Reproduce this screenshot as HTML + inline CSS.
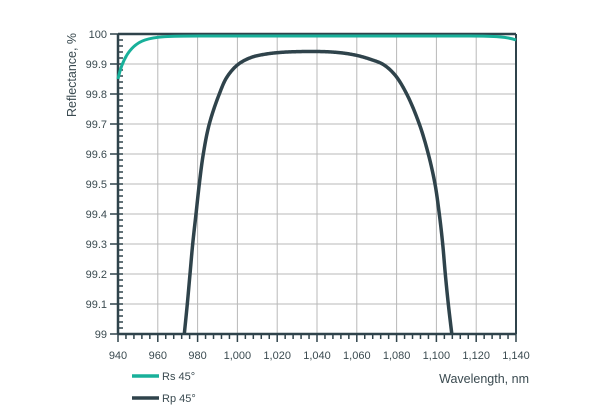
<!DOCTYPE html>
<html><head><meta charset="utf-8"><style>
body{margin:0;background:#fff}
svg{display:block;font-family:"Liberation Sans",sans-serif}
text{fill:#3a4a50;font-size:11px}
</style></head><body>
<svg width="600" height="415" viewBox="0 0 600 415">
<g stroke="#b8b8b8" stroke-width="1">
<line x1="157.8" y1="34" x2="157.8" y2="334"/><line x1="197.6" y1="34" x2="197.6" y2="334"/><line x1="237.4" y1="34" x2="237.4" y2="334"/><line x1="277.2" y1="34" x2="277.2" y2="334"/><line x1="317" y1="34" x2="317" y2="334"/><line x1="356.8" y1="34" x2="356.8" y2="334"/><line x1="396.6" y1="34" x2="396.6" y2="334"/><line x1="436.4" y1="34" x2="436.4" y2="334"/><line x1="476.2" y1="34" x2="476.2" y2="334"/>
<line x1="118" y1="64" x2="516" y2="64"/><line x1="118" y1="94" x2="516" y2="94"/><line x1="118" y1="124" x2="516" y2="124"/><line x1="118" y1="154" x2="516" y2="154"/><line x1="118" y1="184" x2="516" y2="184"/><line x1="118" y1="214" x2="516" y2="214"/><line x1="118" y1="244" x2="516" y2="244"/><line x1="118" y1="274" x2="516" y2="274"/><line x1="118" y1="304" x2="516" y2="304"/>
</g>
<g id="ticks" stroke="#2f434b" stroke-width="1.5"></g>
<g stroke="#2f434b" stroke-width="2.5" fill="none">
<line x1="118" y1="34" x2="516" y2="34"/>
<line x1="118" y1="334" x2="516" y2="334"/>
<line x1="118" y1="34" x2="118" y2="334"/>
<line x1="516" y1="34" x2="516" y2="334" stroke-width="2"/>
</g>
<path d="M118,79 C122,60 130,45 145,40 C155,36.5 170,36 200,36 L470,36 C495,36 508,37 516,40" stroke="#18b09a" stroke-width="3" fill="none"/>
<path id="rp" fill="none" stroke="#2f434b" stroke-width="3.5" stroke-linejoin="round" d=""/>
<g text-anchor="end">
<text x="107" y="38">100</text><text x="107" y="68">99.9</text><text x="107" y="98">99.8</text><text x="107" y="128">99.7</text><text x="107" y="158">99.6</text><text x="107" y="188">99.5</text><text x="107" y="218">99.4</text><text x="107" y="248">99.3</text><text x="107" y="278">99.2</text><text x="107" y="308">99.1</text><text x="107" y="338">99</text>
</g>
<g text-anchor="middle">
<text x="118" y="359">940</text><text x="157.8" y="359">960</text><text x="197.6" y="359">980</text><text x="237.4" y="359">1,000</text><text x="277.2" y="359">1,020</text><text x="317" y="359">1,040</text><text x="356.8" y="359">1,060</text><text x="396.6" y="359">1,080</text><text x="436.4" y="359">1,100</text><text x="476.2" y="359">1,120</text><text x="516" y="359">1,140</text>
</g>
<text x="529" y="383" text-anchor="end" style="font-size:12.5px">Wavelength, nm</text>
<text transform="translate(76,75) rotate(-90)" text-anchor="middle" style="font-size:12.5px">Reflectance, %</text>
<line x1="132" y1="376" x2="159" y2="376" stroke="#18b09a" stroke-width="3.5"/>
<line x1="132" y1="398" x2="159" y2="398" stroke="#2f434b" stroke-width="3.5"/>
<text x="162" y="380">Rs 45°</text>
<text x="162" y="402">Rp 45°</text>
</svg>
<script>
var g=document.getElementById('ticks'),s='';
for(var i=0;i<=50;i++){var x=118+i*7.96;var L=(i%5==0)?8:5;s+='<line x1="'+x+'" y1="334" x2="'+x+'" y2="'+(334+L)+'"/>';}
for(var j=0;j<=50;j++){var y=34+j*6;s+='<line x1="118" y1="'+y+'" x2="123" y2="'+y+'"/>';if(j%5==0)s+='<line x1="110" y1="'+y+'" x2="118" y2="'+y+'"/>';}
g.innerHTML=s;
var P=[[184.3,334],[187.3,304],[190,274],[192.7,244],[196,214],[199.3,184],[203.3,154],[209.3,124],[219.3,94],[227,77],[238,64.5],[251,57.5],[265,54.2],[282,52.3],[300,51.6],[315,51.5],[330,51.9],[345,53.3],[358,55.7],[371,59.5],[383.3,64.5],[395,75],[406.7,94],[419.3,124],[428.3,154],[435,184],[439.3,214],[442.7,244],[445.3,274],[448.3,304],[451.8,334]];
function lerp(a,b,ta,tb,t){var u=(t-ta)/(tb-ta);return [a[0]+(b[0]-a[0])*u,a[1]+(b[1]-a[1])*u];}
var pts=[P[0]];
for(var k=0;k<P.length-1;k++){
var p0=P[k-1]||[2*P[0][0]-P[1][0],2*P[0][1]-P[1][1]],p1=P[k],p2=P[k+1],p3=P[k+2]||[2*p2[0]-p1[0],2*p2[1]-p1[1]];
function dt(a,b){return Math.pow(Math.hypot(b[0]-a[0],b[1]-a[1]),0.5)||1e-4;}
var t0=0,t1=dt(p0,p1),t2=t1+dt(p1,p2),t3=t2+dt(p2,p3);
for(var q=1;q<=24;q++){var t=t1+(t2-t1)*q/24;
var A1=lerp(p0,p1,t0,t1,t),A2=lerp(p1,p2,t1,t2,t),A3=lerp(p2,p3,t2,t3,t);
var B1=lerp(A1,A2,t0,t2,t),B2=lerp(A2,A3,t1,t3,t);pts.push(lerp(B1,B2,t1,t2,t));}}
document.getElementById('rp').setAttribute('d','M'+pts.map(function(p){return p[0].toFixed(2)+','+p[1].toFixed(2);}).join(' L'));
</script>
</body></html>
